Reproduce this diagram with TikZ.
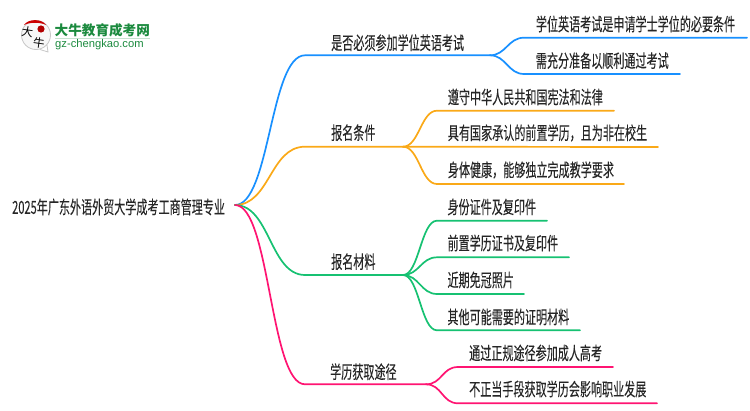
\documentclass[tikz,border=0pt]{standalone}
\usepackage{fontspec}
\setmainfont[FakeStretch=0.615,FakeBold=0.08]{Noto Sans CJK SC}
\newfontfamily\logofont{Noto Sans CJK SC}
\newfontfamily\urlfont{Liberation Sans}
\usetikzlibrary{calc}

\definecolor{mapblue}{HTML}{1890FF}
\definecolor{maporange}{HTML}{FAA918}
\definecolor{mapgreen}{HTML}{16C172}
\definecolor{mappink}{HTML}{FF1472}
\definecolor{logogreen}{HTML}{1B8A3E}

\tikzset{
  topic/.style={anchor=west,inner sep=0pt,font=\fontsize{18}{19}\selectfont,text=black!85},
  edge/.style={line width=1.7pt,line cap=round},
}
\newcommand{\mainbend}{.. controls +(35,0) and +(-35,0) ..}
\newcommand{\subbend}{.. controls +(16,0) and +(-16,0) ..}

\begin{document}
\begin{tikzpicture}[x=1pt,y=-1pt]
\useasboundingbox (0,0) rectangle (750,410);

% logo
\fill[black!3] (36,35) circle (14.5);
\draw[black!22,line width=0.8pt] (47,45) -- (48,52) -- (40,49.5);
\draw[black!22,line width=0.8pt] (36,35) circle (14.5);
\fill[red!80!black] (24,25) .. controls (28,18.5) and (42,18.5) .. (46,25) .. controls (40,22) and (30,22) .. (24,25);
\fill[red!70!black] (41,29) circle (3.6);
\node (logoa) at (27.5,31.5) [inner sep=0pt,rotate=-8,font=\logofont\fontsize{11.5}{12}\selectfont] {大};
\node (logob) at (39,43) [inner sep=0pt,rotate=-8,font=\logofont\fontsize{11.5}{12}\selectfont] {牛};
\node (logotitle) at (54.5,30) [anchor=west,inner sep=0pt,text=logogreen,font=\logofont\bfseries\fontsize{13.6}{14}\selectfont] {大牛教育成考网};
\draw[logogreen!25,line width=1pt] (55,38.5) -- (150,38.5);
\node (logourl) at (55,45) [anchor=west,inner sep=0pt,text=logogreen,font=\urlfont\fontsize{11.2}{12}\selectfont] {gz-chengkao.com};

% root
\node (root) at (12,207) [topic] {2025年广东外语外贸大学成考工商管理专业};
\coordinate (o) at (235,205);

% first branch
\coordinate (a) at (305,55.3);
\coordinate (ae) at (490,55.3);
\coordinate (a1) at (524,37.7);
\coordinate (a1e) at (747,37.7);
\coordinate (a2) at (524,74);
\coordinate (a2e) at (680,74);
\node (atext) at (331,42.7) [topic] {是否必须参加学位英语考试};
\node (a1text) at (535.7,24) [topic] {学位英语考试是申请学士学位的必要条件};
\node (a2text) at (535.7,60.7) [topic] {需充分准备以顺利通过考试};
\draw[edge,mapblue] (o) \mainbend (a) -- (ae);
\draw[edge,mapblue] (ae) \subbend (a1) -- (a1e);
\draw[edge,mapblue] (ae) \subbend (a2) -- (a2e);

% second branch
\coordinate (b) at (305,146.7);
\coordinate (be) at (403,146.7);
\coordinate (b1) at (437,110.7);
\coordinate (b1e) at (614,110.7);
\coordinate (b2e) at (658,147);
\coordinate (b3) at (437,184);
\coordinate (b3e) at (624,184);
\node (btext) at (331,132.7) [topic] {报名条件};
\node (b1text) at (447.7,97) [topic] {遵守中华人民共和国宪法和法律};
\node (b2text) at (447.7,133) [topic] {具有国家承认的前置学历，且为非在校生};
\node (b3text) at (447.7,170) [topic] {身体健康，能够独立完成教学要求};
\draw[edge,maporange] (o) \mainbend (b) -- (be);
\draw[edge,maporange] (be) \subbend (b1) -- (b1e);
\draw[edge,maporange] (be) -- (b2e);
\draw[edge,maporange] (be) \subbend (b3) -- (b3e);

% third branch
\coordinate (c) at (305,275);
\coordinate (ce) at (403,275);
\coordinate (c1) at (437,220.7);
\coordinate (c1e) at (547,220.7);
\coordinate (c2) at (437,257.3);
\coordinate (c2e) at (569,257.3);
\coordinate (c3) at (437,294);
\coordinate (c3e) at (524,294);
\coordinate (c4) at (437,330.3);
\coordinate (c4e) at (580,330.3);
\node (ctext) at (331,261.7) [topic] {报名材料};
\node (c1text) at (447.3,207) [topic] {身份证件及复印件};
\node (c2text) at (447.3,243) [topic] {前置学历证书及复印件};
\node (c3text) at (447.3,280) [topic] {近期免冠照片};
\node (c4text) at (447.3,317) [topic] {其他可能需要的证明材料};
\draw[edge,mapgreen] (o) \mainbend (c) -- (ce);
\draw[edge,mapgreen] (ce) \subbend (c1) -- (c1e);
\draw[edge,mapgreen] (ce) \subbend (c2) -- (c2e);
\draw[edge,mapgreen] (ce) \subbend (c3) -- (c3e);
\draw[edge,mapgreen] (ce) \subbend (c4) -- (c4e);

% fourth branch
\coordinate (d) at (305,384.3);
\coordinate (de) at (426,384.3);
\coordinate (d1) at (458,367);
\coordinate (d1e) at (613,367);
\coordinate (d2) at (458,403.3);
\coordinate (d2e) at (657,403.3);
\node (dtext) at (330,371.7) [topic] {学历获取途径};
\node (d1text) at (469,353) [topic] {通过正规途径参加成人高考};
\node (d2text) at (469,389) [topic] {不正当手段获取学历会影响职业发展};
\draw[edge,mappink] (o) \mainbend (d) -- (de);
\draw[edge,mappink] (de) \subbend (d1) -- (d1e);
\draw[edge,mappink] (de) \subbend (d2) -- (d2e);

\end{tikzpicture}
\end{document}
